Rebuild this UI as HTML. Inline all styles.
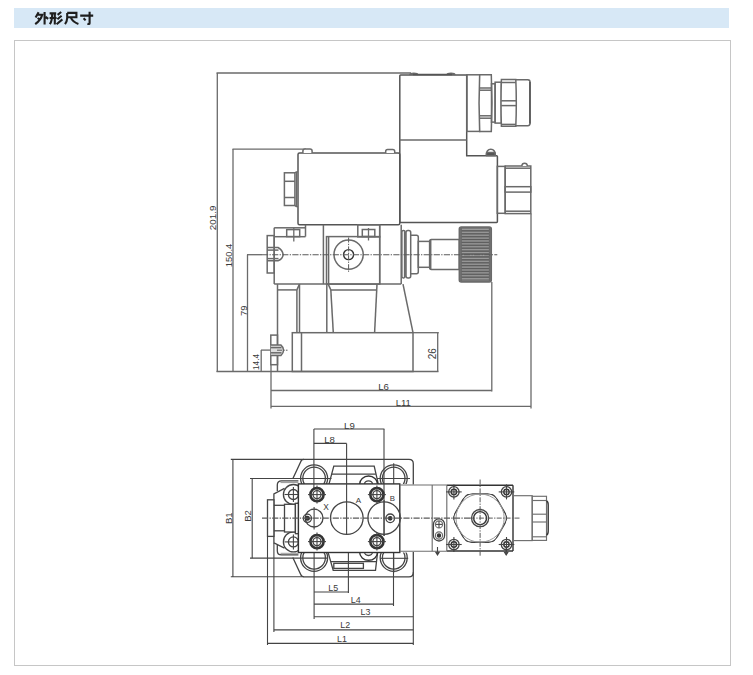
<!DOCTYPE html>
<html><head><meta charset="utf-8"><style>
html,body{margin:0;padding:0;background:#fff;}
body{width:753px;height:675px;position:relative;overflow:hidden;font-family:"Liberation Sans",sans-serif;}
.hdr{position:absolute;left:14px;top:8px;width:715px;height:20px;background:#d7e8f6;}
.box{position:absolute;left:14px;top:40px;width:715px;height:624px;border:1px solid #c6c6c6;}
svg{position:absolute;left:0;top:0;}
.l{fill:none;stroke:#6a6a6a;stroke-width:1.5;}
.lt{fill:none;stroke:#999;stroke-width:1;}
.m{fill:none;stroke:#6e6e6e;stroke-width:1.15;}
.low .l{stroke:#444;stroke-width:1.3;}
.low .d{stroke:#444;stroke-width:1.1;}
.t{fill:none;stroke:#333;stroke-width:1.4;}
.o{fill:none;stroke:#555;stroke-width:1.5;}
.bt{fill:none;stroke:#333;stroke-width:2.6;}
.d{fill:none;stroke:#6a6a6a;stroke-width:1.3;}
.c{fill:none;stroke:#5a5a5a;stroke-width:1.1;stroke-dasharray:6.2 1.3 1.3 1.3;}
.c2{fill:none;stroke:#5a5a5a;stroke-width:1;stroke-dasharray:5 1.3 1.3 1.3;}
.kn line{stroke:#b0b0b0;stroke-width:0.7;}
.kd line{stroke:#4a4a4a;stroke-width:0.6;}
.zh path{fill:none;stroke:#1e1e1e;stroke-width:2.1;stroke-linecap:butt;stroke-linejoin:miter;}
text{font-family:"Liberation Sans",sans-serif;fill:#3a3a3a;}
</style></head><body>
<div class="hdr"></div>
<div class="box"></div>
<svg width="753" height="675" viewBox="0 0 753 675">
<defs><clipPath id="cb"><path d="M0,0 H753 V483.9 H0 Z M0,552.5 H753 V675 H0 Z"/></clipPath></defs>

<g class="zh">
<path d="M38.6,12.2 L35.6,17.4 M37.2,14.8 H42.2 Q41,20 35.2,24.2 M37.6,18 L40,19.6 M44.6,12 V24.4 M45.6,16.8 L48.2,18.8"/>
<path d="M49.6,13.4 H56.2 M49.6,18 H56.6 M52.2,13.4 Q52.2,21 49.8,24.2 M54.8,13.4 V24.4 M61.2,12 L57.6,14.8 M61.6,15.8 L57.4,19.2 M62.4,19.4 L56.6,24.2"/>
<path d="M67.2,12.9 H76.4 V17.2 H67.2 M67.2,12.9 V18 Q67,21.8 65,24.2 M70.6,17.2 Q72.6,22 78.4,24"/>
<path d="M80.2,15.6 H93.2 M89.6,11.8 V23.2 Q89.6,24.4 87.4,23.8 M83.6,18.2 L85.6,20.4"/>
</g>
<line class="d" x1="216.5" y1="73" x2="411" y2="73"/>
<line class="d" x1="217.3" y1="73" x2="217.3" y2="372"/>
<line class="d" x1="232.5" y1="149.1" x2="306" y2="149.1"/>
<line class="d" x1="233" y1="149.1" x2="233" y2="372"/>
<line class="d" x1="247" y1="254.7" x2="262" y2="254.7"/>
<line class="d" x1="247.5" y1="254.7" x2="247.5" y2="372"/>
<line class="d" x1="261" y1="350.1" x2="271" y2="350.1"/>
<line class="d" x1="261.2" y1="350.1" x2="261.2" y2="372"/>
<line class="d" x1="216.5" y1="371.5" x2="438.5" y2="371.5"/>
<line class="d" x1="413" y1="332.7" x2="438.8" y2="332.7"/>
<line class="d" x1="437.7" y1="332.7" x2="437.7" y2="371.5"/>
<line class="d" x1="271" y1="390.5" x2="491.8" y2="390.5"/>
<line class="d" x1="491.8" y1="282" x2="491.8" y2="391.5"/>
<line class="d" x1="271" y1="406.3" x2="531" y2="406.3"/>
<line class="d" x1="531" y1="213.6" x2="531" y2="408.5"/>
<line class="d" x1="271" y1="364.7" x2="271" y2="408.5"/>
<text x="216.2" y="217.9" font-size="9.8" text-anchor="middle" transform="rotate(-90 216.2 217.9)">201.9</text>
<text x="232.2" y="255.5" font-size="9.4" text-anchor="middle" transform="rotate(-90 232.2 255.5)">150.4</text>
<text x="247.4" y="310.7" font-size="9.6" text-anchor="middle" transform="rotate(-90 247.4 310.7)">79</text>
<text x="259" y="362" font-size="8.3" text-anchor="middle" transform="rotate(-90 259 362)">14.4</text>
<text x="436" y="353.8" font-size="10" text-anchor="middle" transform="rotate(-90 436 353.8)">26</text>
<text x="383.5" y="390.2" font-size="9.6" text-anchor="middle">L6</text>
<text x="403.3" y="405.9" font-size="9.6" text-anchor="middle">L11</text>
<path class="o" d="M400.8,75 H466.7 V155.7 H496.6 Q497.4,155.7 497.4,156.5 V221.6 Q497.4,222.4 496.6,222.4 H400.6 Q399.8,222.4 399.8,221.6 V75.8 Q399.8,75 400.6,75 Z"/>
<line class="l" x1="399.6" y1="140" x2="466.7" y2="140"/>
<path class="d" d="M409.6,75 Q410,73.1 413.8,73.1 Q417.6,73.1 418,75" style="fill:#666"/>
<path class="d" d="M446.8,75 Q447.2,73.1 451,73.1 Q454.8,73.1 455.2,75" style="fill:#666"/>
<line class="o" x1="413" y1="74.6" x2="452" y2="74.6"/>
<rect class="l" x="466.9" y="74.8" width="12.8" height="56.6"/>
<path class="l" d="M479.7,74.8 H491.3 Q492.6,103 491.3,131.4 H479.7 Q478.4,103 479.7,74.8 Z" style="fill:#fff"/>
<line class="l" x1="479.4" y1="88" x2="491.6" y2="88"/>
<line class="l" x1="479.2" y1="90.2" x2="491.8" y2="90.2"/>
<line class="l" x1="479.2" y1="115.8" x2="491.8" y2="115.8"/>
<line class="l" x1="479.4" y1="118.2" x2="491.6" y2="118.2"/>
<rect class="l" x="491.5" y="83.8" width="3.6" height="38.3"/>
<rect class="l" x="495.1" y="82.2" width="6.3" height="40.9"/>
<path class="l" d="M501.4,79.4 H515.8 Q516.8,103 515.8,126.3 H501.4 Q500.6,103 501.4,79.4 Z" style="fill:#fff"/>
<line class="l" x1="501.4" y1="82.5" x2="515.8" y2="82.5"/>
<line class="l" x1="501.4" y1="124.4" x2="515.8" y2="124.4"/>
<line class="l" x1="501.2" y1="100.8" x2="516" y2="100.8"/>
<line class="l" x1="501.2" y1="105.6" x2="516" y2="105.6"/>
<path class="l" d="M515.8,79.8 H527.8 Q530.1,79.8 530.1,82.5 V123.1 Q530.1,125.8 527.8,125.8 H515.8"/>
<line class="o" x1="529.9" y1="82" x2="529.9" y2="123.6"/>
<path class="l" d="M486.2,155.7 Q486.4,149.2 490.8,149.2 Q495.2,149.2 495.4,155.7" style="fill:#fff"/>
<rect class="d" x="486.6" y="152.4" width="8.4" height="3.3" style="fill:#555"/>
<rect class="l" x="497.3" y="166.4" width="7.9" height="46.9"/>
<rect class="l" x="505.2" y="166" width="25.6" height="47.6"/>
<line class="l" x1="505.2" y1="168.2" x2="530.8" y2="168.2"/>
<line class="l" x1="505.2" y1="211.2" x2="530.8" y2="211.2"/>
<rect class="l" x="505.2" y="186.7" width="25.6" height="5.4"/>
<path class="l" d="M521.8,166 Q522,163.3 524.6,163.3 Q527.2,163.3 527.4,166" style="fill:#fff"/>
<rect class="o" x="298" y="153" width="101.8" height="71.8" rx="1.5"/>
<path class="l" d="M302.9,153 V151 Q302.9,149.1 305,149.1 H310 Q312.1,149.1 312.1,151 V153" style="fill:#fff"/>
<path class="l" d="M385.7,153 V151.2 Q385.7,149.4 387.6,149.4 H392.8 Q394.7,149.4 394.7,151.2 V153" style="fill:#fff"/>
<rect class="l" x="284.4" y="172.8" width="10.5" height="32.7"/>
<line class="l" x1="284.4" y1="181.3" x2="294.9" y2="181.3"/>
<line class="l" x1="284.4" y1="197.5" x2="294.9" y2="197.5"/>
<path class="d" d="M294.9,172.8 L296.3,171.8 H298 M294.9,205.5 L296.3,206.7 H298"/>
<line class="d" x1="296.4" y1="172" x2="296.4" y2="206.5"/>
<line class="l" x1="274.2" y1="227.7" x2="274.2" y2="284.1"/>
<line class="l" x1="274.2" y1="227.8" x2="305.5" y2="227.8"/>
<line class="l" x1="305.5" y1="224.8" x2="305.5" y2="236.6"/>
<line class="l" x1="274.2" y1="236.7" x2="305.5" y2="236.7"/>
<rect class="l" x="286.7" y="229.6" width="13.0" height="7.0"/>
<line class="d" x1="293.8" y1="228" x2="293.8" y2="241.5"/>
<line class="l" x1="323.4" y1="224.8" x2="323.4" y2="284.1"/>
<rect class="l" x="326.5" y="236.6" width="53.2" height="47.5"/>
<line class="l" x1="328.6" y1="236.6" x2="328.6" y2="284.1"/>
<rect class="l" x="357.8" y="224.8" width="21.9" height="12.1"/>
<rect class="l" x="362.3" y="229.5" width="12.5" height="7.0"/>
<line class="d" x1="368.5" y1="228" x2="368.5" y2="240.5"/>
<circle class="l" cx="348.6" cy="254.6" r="14.6"/>
<circle class="t" cx="348.6" cy="254.6" r="5"/>
<line class="c2" x1="348.6" y1="237.5" x2="348.6" y2="272"/>
<line class="l" x1="379.7" y1="224.8" x2="379.7" y2="284.1"/>
<line class="l" x1="401.2" y1="224.8" x2="401.2" y2="284.1"/>
<line class="l" x1="274.2" y1="284.1" x2="401.2" y2="284.1"/>
<rect class="l" x="267.2" y="235.6" width="7.0" height="37.4"/>
<path class="l" d="M267.2,247.5 H278 Q282.5,250 283.2,254.7 Q282.5,259.4 278,260.7 H267.2"/>
<line class="l" x1="267.2" y1="250.1" x2="278.5" y2="250.1"/>
<line class="l" x1="267.2" y1="258.6" x2="278.5" y2="258.6"/>
<rect class="l" x="401.9" y="230.5" width="3.1" height="47.4" rx="1.4"/>
<line class="l" x1="404.6" y1="231.5" x2="404.6" y2="277"/>
<rect class="l" x="406" y="230.5" width="4.7" height="47.4" rx="2"/>
<path class="l" d="M410.7,235.3 H416.5 Q418.3,235.3 418.3,237.3 V271.7 Q418.3,273.7 416.5,273.7 H410.7"/>
<rect class="l" x="418.3" y="241.4" width="11.3" height="25.9"/>
<path class="l" d="M429.6,241.4 Q429.6,239.4 431.4,239.4 H459.3 V269.5 H431.4 Q429.6,269.5 429.6,267.6"/>
<line class="l" x1="430.7" y1="240" x2="430.7" y2="269"/>
<rect class="l" x="459.3" y="227.1" width="32.0" height="54.9" rx="2" style="fill:#777"/>
<g class="kn"><line x1="461" y1="229.4" x2="489.6" y2="229.4"/><line x1="461" y1="232.3" x2="489.6" y2="232.3"/><line x1="461" y1="235.2" x2="489.6" y2="235.2"/><line x1="461" y1="238.1" x2="489.6" y2="238.1"/><line x1="461" y1="241.0" x2="489.6" y2="241.0"/><line x1="461" y1="243.9" x2="489.6" y2="243.9"/><line x1="461" y1="246.8" x2="489.6" y2="246.8"/><line x1="461" y1="249.7" x2="489.6" y2="249.7"/><line x1="461" y1="252.6" x2="489.6" y2="252.6"/><line x1="461" y1="255.5" x2="489.6" y2="255.5"/><line x1="461" y1="258.4" x2="489.6" y2="258.4"/><line x1="461" y1="261.3" x2="489.6" y2="261.3"/><line x1="461" y1="264.2" x2="489.6" y2="264.2"/><line x1="461" y1="267.1" x2="489.6" y2="267.1"/><line x1="461" y1="270.0" x2="489.6" y2="270.0"/><line x1="461" y1="272.9" x2="489.6" y2="272.9"/><line x1="461" y1="275.8" x2="489.6" y2="275.8"/><line x1="461" y1="278.7" x2="489.6" y2="278.7"/></g>
<g class="kd"><line x1="461" y1="230.8" x2="489.6" y2="230.8"/><line x1="461" y1="233.8" x2="489.6" y2="233.8"/><line x1="461" y1="236.7" x2="489.6" y2="236.7"/><line x1="461" y1="239.5" x2="489.6" y2="239.5"/><line x1="461" y1="242.4" x2="489.6" y2="242.4"/><line x1="461" y1="245.3" x2="489.6" y2="245.3"/><line x1="461" y1="248.2" x2="489.6" y2="248.2"/><line x1="461" y1="251.2" x2="489.6" y2="251.2"/><line x1="461" y1="254.0" x2="489.6" y2="254.0"/><line x1="461" y1="256.9" x2="489.6" y2="256.9"/><line x1="461" y1="259.8" x2="489.6" y2="259.8"/><line x1="461" y1="262.8" x2="489.6" y2="262.8"/><line x1="461" y1="265.6" x2="489.6" y2="265.6"/><line x1="461" y1="268.6" x2="489.6" y2="268.6"/><line x1="461" y1="271.4" x2="489.6" y2="271.4"/><line x1="461" y1="274.3" x2="489.6" y2="274.3"/><line x1="461" y1="277.2" x2="489.6" y2="277.2"/></g>
<line class="d" x1="461.2" y1="228" x2="461.2" y2="281"/>
<line class="d" x1="489.5" y1="228" x2="489.5" y2="281"/>
<line class="c" x1="262" y1="254.7" x2="497.3" y2="254.7"/>
<line class="l" x1="277.5" y1="284.1" x2="277.5" y2="371.5"/>
<line class="l" x1="277.6" y1="289.9" x2="296.9" y2="289.9"/>
<line class="l" x1="296.9" y1="289.9" x2="299.5" y2="284.1"/>
<line class="l" x1="296.9" y1="289.9" x2="296.9" y2="332.7"/>
<line class="l" x1="299.5" y1="284.1" x2="299.5" y2="332.7"/>
<line class="l" x1="326.8" y1="284.1" x2="326.8" y2="332.7"/>
<line class="l" x1="328.2" y1="284.1" x2="330.8" y2="289.9"/>
<line class="l" x1="330.8" y1="289.9" x2="333.3" y2="332.7"/>
<line class="l" x1="330.8" y1="289.9" x2="376.2" y2="289.9"/>
<line class="l" x1="377" y1="284.1" x2="374.6" y2="332.7"/>
<line class="l" x1="403" y1="284.1" x2="413" y2="332.7"/>
<rect class="l" x="292.3" y="332.7" width="120.7" height="38.8"/>
<line class="l" x1="301.5" y1="332.7" x2="301.5" y2="371.5"/>
<rect class="l" x="270.8" y="335.1" width="6.7" height="29.6"/>
<path class="l" d="M270.8,345.1 H281 Q283.4,347 283.6,350.2 Q283.4,353.4 281,355.4 H270.8" style="fill:#ddd"/>
<line class="l" x1="270.8" y1="347.6" x2="281.5" y2="347.6"/>
<line class="l" x1="270.8" y1="352.8" x2="281.5" y2="352.8"/>
<line class="c2" x1="277" y1="350.2" x2="287.5" y2="350.2"/>
<g class="low">
<line class="d" x1="313.9" y1="429" x2="384.4" y2="429"/>
<line class="d" x1="313.9" y1="443.4" x2="346.6" y2="443.4"/>
<text x="349.4" y="428.6" font-size="9.6" text-anchor="middle">L9</text>
<text x="329.5" y="443" font-size="9.6" text-anchor="middle">L8</text>
<line class="d" x1="232.9" y1="459.3" x2="232.9" y2="577"/>
<line class="d" x1="230.8" y1="459.4" x2="304" y2="459.4"/>
<line class="d" x1="230.8" y1="576.8" x2="304" y2="576.8"/>
<line class="d" x1="252.2" y1="478.5" x2="252.2" y2="558.2"/>
<line class="d" x1="250" y1="478.5" x2="331.5" y2="478.5"/>
<line class="d" x1="250" y1="558.1" x2="327.5" y2="558.1"/>
<text x="231.9" y="518.2" font-size="9.6" text-anchor="middle" transform="rotate(-90 231.9 518.2)">B1</text>
<text x="250.9" y="515.9" font-size="9.6" text-anchor="middle" transform="rotate(-90 250.9 515.9)">B2</text>
<line class="d" x1="267.2" y1="643.4" x2="413.3" y2="643.4"/>
<line class="d" x1="273.9" y1="629.9" x2="413.3" y2="629.9"/>
<line class="d" x1="314.1" y1="616.8" x2="413.3" y2="616.8"/>
<line class="d" x1="314.1" y1="604.1" x2="393.4" y2="604.1"/>
<line class="d" x1="314.1" y1="592" x2="348.4" y2="592"/>
<line class="d" x1="314.1" y1="547" x2="314.1" y2="619"/>
<line class="d" x1="348.4" y1="552.2" x2="348.4" y2="593"/>
<line class="d" x1="393.5" y1="547" x2="393.5" y2="606"/>
<line class="d" x1="413.3" y1="572" x2="413.3" y2="645"/>
<text x="341.9" y="641.8" font-size="8.9" text-anchor="middle">L1</text>
<text x="345.2" y="628.3" font-size="8.9" text-anchor="middle">L2</text>
<text x="365.4" y="614.9" font-size="8.9" text-anchor="middle">L3</text>
<text x="355.7" y="602.8" font-size="8.9" text-anchor="middle">L4</text>
<text x="333.2" y="590.7" font-size="8.9" text-anchor="middle">L5</text>
<path class="l" d="M303.8,459.4 H409 Q413.3,459.4 413.3,463.7 V484.5"/>
<path class="l" d="M303.8,576.8 H409 Q413.3,576.8 413.3,572.5 V552"/>
<path class="l" d="M303.8,459.4 Q301.2,459.6 300.6,462 L292.8,478.8"/>
<path class="l" d="M303.8,576.8 Q301.2,576.6 300.6,574.2 L292.8,557.4"/>
<g clip-path="url(#cb)">
<circle class="l" cx="314.1" cy="478.4" r="13.5"/>
<circle class="l" cx="314.1" cy="478.4" r="11.3"/>
<circle class="l" cx="314.1" cy="557.8" r="13.5"/>
<circle class="l" cx="314.1" cy="557.8" r="11.3"/>
<circle class="l" cx="393.7" cy="478.4" r="13.5"/>
<circle class="l" cx="393.7" cy="478.4" r="11.3"/>
<circle class="l" cx="393.7" cy="557.8" r="13.5"/>
<circle class="l" cx="393.7" cy="557.8" r="11.3"/>
</g>
<line class="d" x1="393.7" y1="463.3" x2="393.7" y2="487.7"/>
<line class="d" x1="377" y1="478.5" x2="410" y2="478.5"/>
<line class="d" x1="393.7" y1="548.5" x2="393.7" y2="572.8"/>
<line class="d" x1="380" y1="558.3" x2="408.2" y2="558.3"/>
<path class="l" d="M329,484.2 L333.8,466.2 H374.2 L378.3,484.2"/>
<line class="l" x1="331.6" y1="474.2" x2="375.8" y2="474.2"/>
<path class="l" d="M328,552.1 L333.2,570.3 H375.5 L377.6,552.1"/>
<line class="l" x1="330.8" y1="561.7" x2="376.5" y2="561.7"/>
<rect class="l" x="333.8" y="563.3" width="29.6" height="5.1"/>
<path class="t" d="M359.6,484.2 A9,8.2 0 0 1 377.6,484.2"/>
<path class="l" d="M364.5,484.2 A4,3.4 0 0 1 372.5,484.2"/>
<path class="t" d="M359.6,552.1 A9,8.2 0 0 0 377.6,552.1"/>
<path class="l" d="M364.5,552.1 A4,3.4 0 0 0 372.5,552.1"/>
<path class="l" d="M298.4,480.8 H281.5 Q277.3,480.8 277.3,485 V491"/>
<line class="lt" x1="280.5" y1="482.6" x2="298.4" y2="482.6"/>
<path class="l" d="M298.4,554.9 H281.5 Q277.3,554.9 277.3,550.7 V545"/>
<line class="lt" x1="280.5" y1="553.3" x2="298.4" y2="553.3"/>
<circle class="l" cx="293.4" cy="494.5" r="10" style="fill:#fff"/>
<circle class="l" cx="293.4" cy="494.5" r="5"/>
<line class="d" x1="284.5" y1="494.5" x2="302" y2="494.5"/>
<line class="d" x1="293.4" y1="487.0" x2="293.4" y2="502.0"/>
<circle class="l" cx="293.4" cy="541.9" r="10" style="fill:#fff"/>
<circle class="l" cx="293.4" cy="541.9" r="5"/>
<line class="d" x1="284.5" y1="541.9" x2="302" y2="541.9"/>
<line class="d" x1="293.4" y1="534.4" x2="293.4" y2="549.4"/>
<path class="l" d="M284.5,488.3 L273.9,493.8 V542.9 L284.5,548.2"/>
<rect class="l" x="267.5" y="499.8" width="6.4" height="36.6" style="fill:#fff"/>
<line class="d" x1="267.5" y1="536.4" x2="267.5" y2="645"/>
<line class="d" x1="273.9" y1="542.9" x2="273.9" y2="632"/>
<line class="l" x1="273.9" y1="505.3" x2="284.5" y2="505.3"/>
<line class="l" x1="273.9" y1="530.8" x2="284.5" y2="530.8"/>
<rect class="l" x="284.5" y="504.3" width="10.9" height="27.7" style="fill:#fff"/>
<rect class="l" x="295.4" y="503.3" width="3.2" height="30.4" style="fill:#fff"/>
<rect class="t" x="298.4" y="483.9" width="101.4" height="68.6" style="fill:#fff"/>
<line class="d" x1="313.9" y1="429" x2="313.9" y2="489"/>
<line class="d" x1="346.6" y1="443.4" x2="346.6" y2="534.5"/>
<line class="d" x1="384" y1="429" x2="384" y2="536"/>
<circle class="bt" cx="317" cy="494.6" r="6.6"/>
<circle class="l" cx="317" cy="494.6" r="4"/>
<line class="d" x1="308" y1="494.6" x2="326" y2="494.6"/>
<line class="d" x1="317" y1="485.6" x2="317" y2="503.6"/>
<circle class="bt" cx="317" cy="541.6" r="6.6"/>
<circle class="l" cx="317" cy="541.6" r="4"/>
<line class="d" x1="308" y1="541.6" x2="326" y2="541.6"/>
<line class="d" x1="317" y1="532.6" x2="317" y2="550.6"/>
<circle class="bt" cx="376.9" cy="494.6" r="6.6"/>
<circle class="l" cx="376.9" cy="494.6" r="4"/>
<line class="d" x1="367.9" y1="494.6" x2="385.9" y2="494.6"/>
<line class="d" x1="376.9" y1="485.6" x2="376.9" y2="503.6"/>
<circle class="bt" cx="376.9" cy="541.6" r="6.6"/>
<circle class="l" cx="376.9" cy="541.6" r="4"/>
<line class="d" x1="367.9" y1="541.6" x2="385.9" y2="541.6"/>
<line class="d" x1="376.9" y1="532.6" x2="376.9" y2="550.6"/>
<circle class="l" cx="314.1" cy="518.1" r="8.9"/>
<circle class="l" cx="346.8" cy="518.1" r="16.3"/>
<circle class="l" cx="384.1" cy="518.1" r="16.2"/>
<circle class="l" cx="307.4" cy="518.3" r="4.1"/>
<circle class="t" cx="307.4" cy="518.3" r="1.8" style="fill:#333"/>
<circle class="l" cx="390.2" cy="518.3" r="4.3"/>
<circle class="t" cx="390.2" cy="518.3" r="1.7" style="fill:#333"/>
<line class="d" x1="314.1" y1="507" x2="314.1" y2="529.5"/>
<line class="d" x1="384.1" y1="500" x2="384.1" y2="536"/>
<text x="326.1" y="509.8" font-size="8.4" text-anchor="middle">X</text>
<text x="358.4" y="502.9" font-size="8" text-anchor="middle">A</text>
<text x="392.3" y="500.5" font-size="7.8" text-anchor="middle">B</text>
<line class="m" x1="399.8" y1="485" x2="446.8" y2="485"/>
<line class="m" x1="399.8" y1="551.2" x2="446.8" y2="551.2"/>
<line class="m" x1="432.2" y1="485" x2="432.2" y2="551.2"/>
<path class="l" d="M433.4,524.5 A5.6,5.6 0 0 1 444.6,524.5 V535.4 A5.6,5.6 0 0 1 433.4,535.4 Z"/>
<circle class="m" cx="439" cy="524.4" r="3.6"/>
<circle class="m" cx="439" cy="535.5" r="3.6"/>
<circle class="t" cx="439" cy="535.5" r="1.5" style="fill:#333"/>
<line class="d" x1="436" y1="524.4" x2="442" y2="524.4"/>
<line class="d" x1="439" y1="521" x2="439" y2="528"/>
<line class="t" x1="446.8" y1="485.2" x2="513" y2="485.2"/>
<line class="t" x1="446.8" y1="551" x2="513" y2="551"/>
<line class="m" x1="446.8" y1="485.2" x2="446.8" y2="551"/>
<line class="t" x1="513" y1="485.2" x2="513" y2="551"/>
<circle class="l" cx="453.9" cy="491.9" r="5.2"/>
<circle class="t" cx="453.9" cy="491.9" r="2.7"/>
<line class="d" x1="446.09999999999997" y1="491.9" x2="461.7" y2="491.9"/>
<line class="d" x1="453.9" y1="484.4" x2="453.9" y2="499.4"/>
<circle class="l" cx="453.9" cy="544.5" r="5.2"/>
<circle class="t" cx="453.9" cy="544.5" r="2.7"/>
<line class="d" x1="446.09999999999997" y1="544.5" x2="461.7" y2="544.5"/>
<line class="d" x1="453.9" y1="537.0" x2="453.9" y2="552.0"/>
<circle class="l" cx="506.5" cy="491.9" r="5.2"/>
<circle class="t" cx="506.5" cy="491.9" r="2.7"/>
<line class="d" x1="498.7" y1="491.9" x2="514.3" y2="491.9"/>
<line class="d" x1="506.5" y1="484.4" x2="506.5" y2="499.4"/>
<circle class="l" cx="506.5" cy="544.5" r="5.2"/>
<circle class="t" cx="506.5" cy="544.5" r="2.7"/>
<line class="d" x1="498.7" y1="544.5" x2="514.3" y2="544.5"/>
<line class="d" x1="506.5" y1="537.0" x2="506.5" y2="552.0"/>
<clipPath id="hexc"><circle cx="480.1" cy="518.1" r="26.4"/></clipPath>
<polygon class="l" points="508.00,518.10 494.05,542.26 466.15,542.26 452.20,518.10 466.15,493.94 494.05,493.94" clip-path="url(#hexc)"/>
<circle class="l" cx="480.1" cy="518.1" r="26.4" clip-path="url(#hexp)"/>
<clipPath id="hexp"><polygon points="508.00,518.10 494.05,542.26 466.15,542.26 452.20,518.10 466.15,493.94 494.05,493.94"/></clipPath>
<circle class="lt" cx="480.1" cy="518.1" r="24.1"/>
<circle class="l" cx="480.1" cy="518.1" r="8.6"/>
<circle class="t" cx="480.1" cy="518.1" r="6.5"/>
<line class="c2" x1="480.1" y1="479.5" x2="480.1" y2="556.5"/>
<line class="c2" x1="470" y1="518.1" x2="520" y2="518.1"/>
<rect class="m" x="513.4" y="495.7" width="18.8" height="44.9"/>
<rect class="m" x="532.2" y="496.3" width="14.3" height="44.1"/>
<line class="m" x1="532.2" y1="500.5" x2="546.5" y2="500.5"/>
<line class="m" x1="532.2" y1="514.2" x2="546.5" y2="514.2"/>
<line class="m" x1="532.2" y1="522" x2="546.5" y2="522"/>
<line class="m" x1="532.2" y1="536.8" x2="546.5" y2="536.8"/>
<path class="t" d="M546.5,501 Q548.2,501.5 548.2,505 V531 Q548.2,534.5 546.5,535"/>
<line class="d" x1="437.5" y1="547" x2="437.5" y2="552"/>
<path class="d" d="M435.8,552.2 L439.2,552.2 L437.5,555 Z" style="fill:#444"/>
<line class="d" x1="506.2" y1="547" x2="506.2" y2="552"/>
<path class="d" d="M504.5,552.2 L507.9,552.2 L506.2,555 Z" style="fill:#444"/>
<line class="c" x1="262" y1="518.1" x2="470" y2="518.1"/>
</g>
</svg>
</body></html>
